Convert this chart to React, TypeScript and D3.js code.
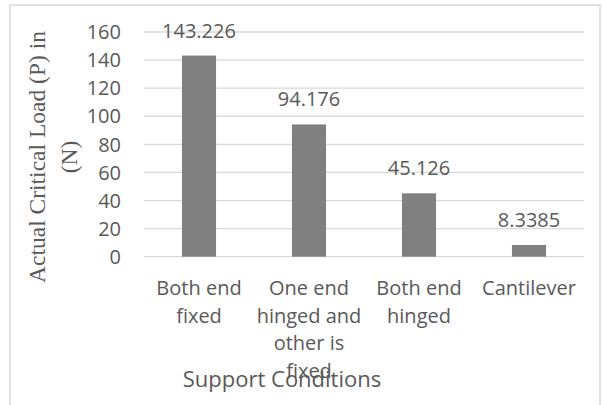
import React from "react";
import * as d3 from "d3";

const categories: string[][] = [
  ["Both end", "fixed"],
  ["One end", "hinged and", "other is", "fixed"],
  ["Both end", "hinged"],
  ["Cantilever"],
];
const values: number[] = [143.226, 94.176, 45.126, 8.3385];
const valueLabels: string[] = ["143.226", "94.176", "45.126", "8.3385"];
const yTicks: number[] = [0, 20, 40, 60, 80, 100, 120, 140, 160];
const yTitle: string[] = ["Actual Critical Load (P) in", "(N)"];
const xTitle = "Support Conditions";

const W = 602;
const H = 405;
const plot = { left: 144, right: 584, top: 32, bottom: 256.7 };
const sans = "'Open Sans', 'Noto Sans', sans-serif";
const serif = "'Liberation Serif', 'DejaVu Serif', serif";
const textColor = "#595959";

export default function App() {
  const x = d3
    .scaleBand<number>()
    .domain(values.map((_, i) => i))
    .range([plot.left, plot.right])
    .paddingInner(0.69)
    .paddingOuter(0.345);
  const y = d3.scaleLinear().domain([0, 160]).range([plot.bottom, plot.top]);
  const center = (i: number) => (x(i) as number) + x.bandwidth() / 2;

  return (
    <svg
      width={W}
      height={H}
      style={{ position: "absolute", left: 0, top: 0, background: "#fff" }}
    >
      <path d={`M10,${H} V5 H600 V${H}`} fill="none" stroke="#d9d9d9" strokeWidth={1.5} />
      {yTicks.map((t) => (
        <g key={t}>
          <line x1={plot.left} x2={plot.right} y1={y(t)} y2={y(t)} stroke="#d9d9d9" strokeWidth={1.3} />
          <text
            x={121}
            y={y(t)}
            dy="0.36em"
            textAnchor="end"
            fontFamily={sans}
            fontSize={20}
            fill={textColor}
          >
            {t}
          </text>
        </g>
      ))}
      {values.map((v, i) => {
        const cx = center(i);
        return (
          <g key={i}>
            <rect x={x(i)} y={y(v)} width={x.bandwidth()} height={y(0) - y(v)} fill="#808080" />
            <text
              x={cx}
              y={y(v) - 18}
              textAnchor="middle"
              fontFamily={sans}
              fontSize={20}
              fill={textColor}
            >
              {valueLabels[i]}
            </text>
          </g>
        );
      })}
      {categories.map((lines, i) =>
        lines.map((ln, j) => (
          <text
            key={`${i}-${j}`}
            x={center(i)}
            y={295 + j * 27.7}
            textAnchor="middle"
            fontFamily={sans}
            fontSize={20}
            fill={textColor}
          >
            {ln}
          </text>
        ))
      )}
      <text x={282} y={387} textAnchor="middle" fontFamily={sans} fontSize={22} fill={textColor}>
        {xTitle}
      </text>
      <g transform="translate(0,157) rotate(-90)">
        {yTitle.map((ln, j) => (
          <text
            key={j}
            x={0}
            y={45 + j * 32}
            textAnchor="middle"
            fontFamily={serif}
            fontSize={23.5}
            fill={textColor}
          >
            {ln}
          </text>
        ))}
      </g>
    </svg>
  );
}
